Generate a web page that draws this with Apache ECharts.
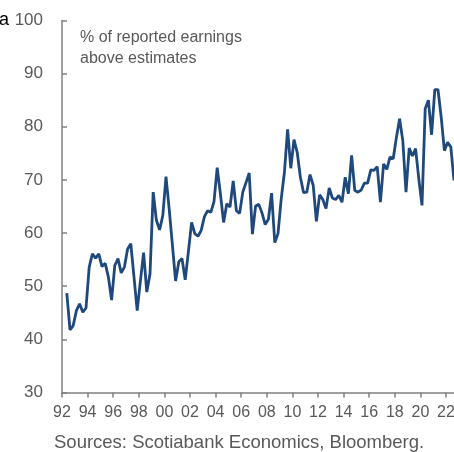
<!DOCTYPE html>
<html>
<head>
<meta charset="utf-8">
<script src="https://cdn.jsdelivr.net/npm/echarts@6/dist/echarts.min.js"></script>
<style>
  html, body { margin: 0; padding: 0; background: #fff; }
  #chart { width: 454px; height: 452px; }
</style>
</head>
<body>
<div id="chart"></div>
<script>
// quarterly % of reported earnings above estimates, starting 1992 Q2
var firstYear = 1992, firstQuarter = 2;
var beats1992to1996 = [48.7, 41.8, 42.6, 45.4, 46.7, 45.1, 45.9, 53.6, 56.1, 55.3, 56.1, 53.7, 54.3, 51.7, 47.4, 53.9, 55.2, 52.5, 53.6, 57.0];
var beats1997to2001 = [58.0, 51.7, 45.4, 51.0, 56.3, 48.9, 52.3, 67.7, 62.4, 60.6, 63.3, 70.6, 64.5, 57.8, 51.0, 54.6, 55.2, 51.2, 56.5, 62.0];
var beats2002to2006 = [59.9, 59.4, 60.5, 63.1, 64.2, 63.9, 65.9, 72.3, 67.4, 62.0, 65.5, 64.9, 69.8, 64.2, 63.7, 67.7, 69.5, 71.3, 59.8, 65.1];
var beats2007to2011 = [65.4, 63.8, 61.6, 62.6, 67.5, 58.2, 59.9, 66.4, 71.4, 79.5, 72.2, 77.6, 75.2, 70.5, 67.6, 67.7, 71.0, 69.0, 62.2, 67.2];
var beats2012to2016 = [66.3, 64.6, 68.5, 66.6, 66.3, 67.1, 65.8, 70.5, 67.4, 74.6, 68.0, 67.7, 68.1, 69.4, 69.4, 71.9, 71.8, 72.5, 65.8, 73.0];
var beats2017to2022 = [72.0, 74.3, 74.0, 78.0, 81.5, 77.4, 67.7, 76.0, 74.5, 75.9, 70.2, 65.2, 83.4, 85.0, 78.5, 87.0, 87.0, 81.8, 75.5, 77.1, 76.2, 69.9];

var yTicks = [30, 40, 50, 60, 70, 80, 90, 100];
var yearTickStep = 2;

var beats = [].concat(beats1992to1996, beats1997to2001, beats2002to2006,
  beats2007to2011, beats2012to2016, beats2017to2022);

// each value sits at the middle of its quarter
var seriesData = [];
for (var i = 0; i < beats.length; i++) {
  var q = firstQuarter - 1 + i;
  var yr = firstYear + Math.floor(q / 4);
  seriesData.push([yr + (q % 4) / 4 + 0.125, beats[i]]);
}
var lastX = seriesData[seriesData.length - 1][0];

var grey = '#595959';
var chart = echarts.init(document.getElementById('chart'));
chart.setOption({
  animation: false,
  // outerBoundsMode none: keep the plot running to the right edge, labels may spill
  grid: { left: 62, top: 20.5, bottom: 59.5, right: 0, containLabel: false, outerBoundsMode: 'none' },
  graphic: [
    { type: 'text', left: -1, top: 11, style: { text: 'a', fontSize: 18, fill: '#000', fontFamily: 'Liberation Sans' } },
    { type: 'text', left: 80, top: 27, style: { text: '% of reported earnings\nabove estimates', fontSize: 16, lineHeight: 21, fill: grey, fontFamily: 'Liberation Sans' } },
    { type: 'text', left: 54, top: 433, style: { text: 'Sources: Scotiabank Economics, Bloomberg.', fontSize: 18.5, fill: grey, fontFamily: 'Liberation Sans' } }
  ],
  xAxis: {
    type: 'value',
    min: firstYear,
    max: lastX,
    interval: yearTickStep,
    splitLine: { show: false },
    axisLine: { lineStyle: { color: '#808080', width: 1.5 } },
    axisTick: { show: true, length: 5, lineStyle: { color: '#808080', width: 1.5 } },
    axisLabel: {
      color: grey, fontSize: 16, fontFamily: 'Liberation Sans', margin: 12,
      showMaxLabel: false,
      formatter: function (v) { return String(Math.round(v) % 100).padStart(2, '0'); }
    }
  },
  yAxis: {
    type: 'value',
    min: yTicks[0],
    max: yTicks[yTicks.length - 1],
    interval: 10,
    splitLine: { show: false },
    axisLine: { show: true, lineStyle: { color: '#808080', width: 1.5 } },
    axisTick: { show: true, inside: true, length: 5, lineStyle: { color: '#808080', width: 1.5 } },
    axisLabel: { color: grey, fontSize: 17, fontFamily: 'Liberation Sans', margin: 19 }
  },
  series: [{
    type: 'line',
    data: seriesData,
    showSymbol: false,
    lineStyle: { color: '#1f497d', width: 2.8 },
    clip: false
  }]
});
</script>
</body>
</html>
